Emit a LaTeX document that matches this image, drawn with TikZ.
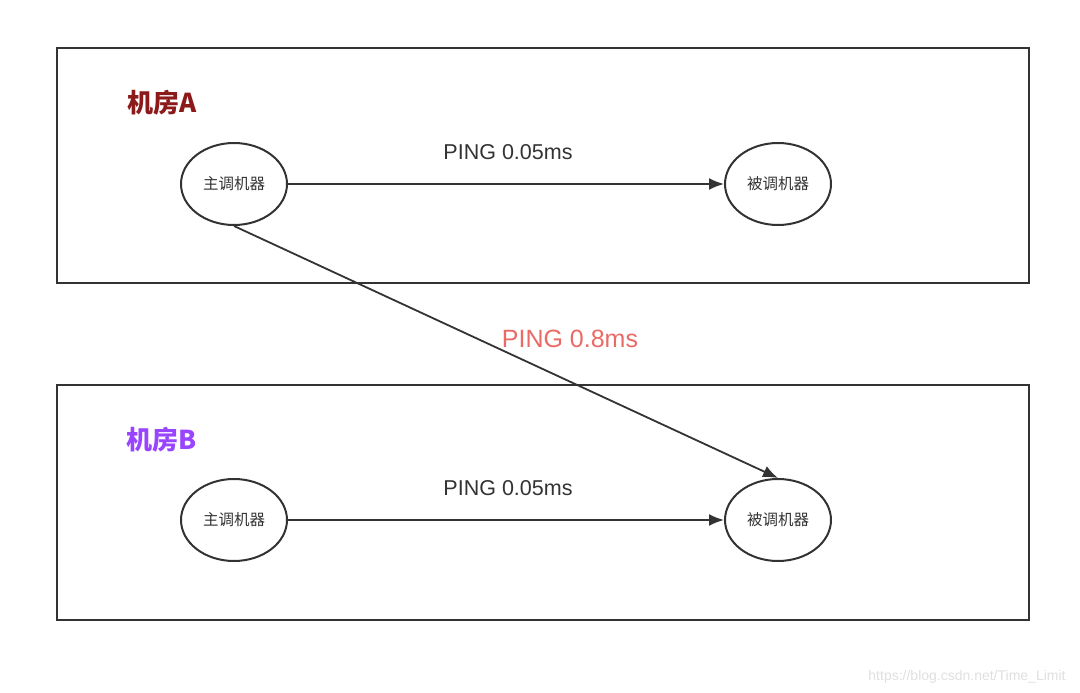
\documentclass[tikz,border=0pt]{standalone}
\usepackage{fontspec}
\setmainfont{Liberation Sans}
\newfontfamily\cjk{Noto Sans CJK SC}
\usetikzlibrary{arrows.meta,shapes.geometric}
\definecolor{linegray}{RGB}{51,51,51}
\definecolor{roomred}{RGB}{140,26,26}
\definecolor{roompurple}{RGB}{153,68,255}
\definecolor{pingred}{RGB}{234,107,102}
\tikzset{
  room/.style={draw=linegray, line width=1.8pt},
  machine/.style={draw=linegray, line width=2pt, ellipse, minimum width=106pt, minimum height=82pt, inner sep=0pt, font=\cjk\fontsize{15.5}{15.5}\selectfont, text=linegray},
  ping/.style={draw=linegray, line width=1.8pt, -{Latex[length=15pt,width=12pt]}},
  pinglabel/.style={font=\fontsize{21.5}{21.5}\selectfont, text=linegray},
  roomlabel/.style={font=\cjk\bfseries\fontsize{26}{26}\selectfont}
}
\begin{document}
\begin{tikzpicture}[x=1pt,y=-1pt]
\useasboundingbox[fill=white] (0,0) rectangle (1080,693);

% room A
\draw[room] (57,48) rectangle (1029,283);
\node[roomlabel, text=roomred] (roomA) at (162,103) {机房A};
\node[machine] (mainA) at (234,184) {主调机器};
\node[machine] (calledA) at (778,184) {被调机器};
\draw[ping] (mainA) -- (calledA);
\node[pinglabel] (pingA) at (508,152) {PING 0.05ms};

% room B
\draw[room] (57,385) rectangle (1029,620);
\node[roomlabel, text=roompurple] (roomB) at (162,440) {机房B};
\node[machine] (mainB) at (234,520) {主调机器};
\node[machine] (calledB) at (778,520) {被调机器};
\draw[ping] (mainB) -- (calledB);
\node[pinglabel] (pingB) at (508,488) {PING 0.05ms};

% across rooms
\draw[ping] (mainA.south) -- (calledB.north);
\node[pinglabel, font=\fontsize{25}{25}\selectfont, text=pingred] (pingAB) at (570,339) {PING 0.8ms};

\node[font=\fontsize{14}{14}\selectfont, text=black!12] (mark) at (967,677) {https://blog.csdn.net/Time\_Limit};
\end{tikzpicture}
\end{document}
